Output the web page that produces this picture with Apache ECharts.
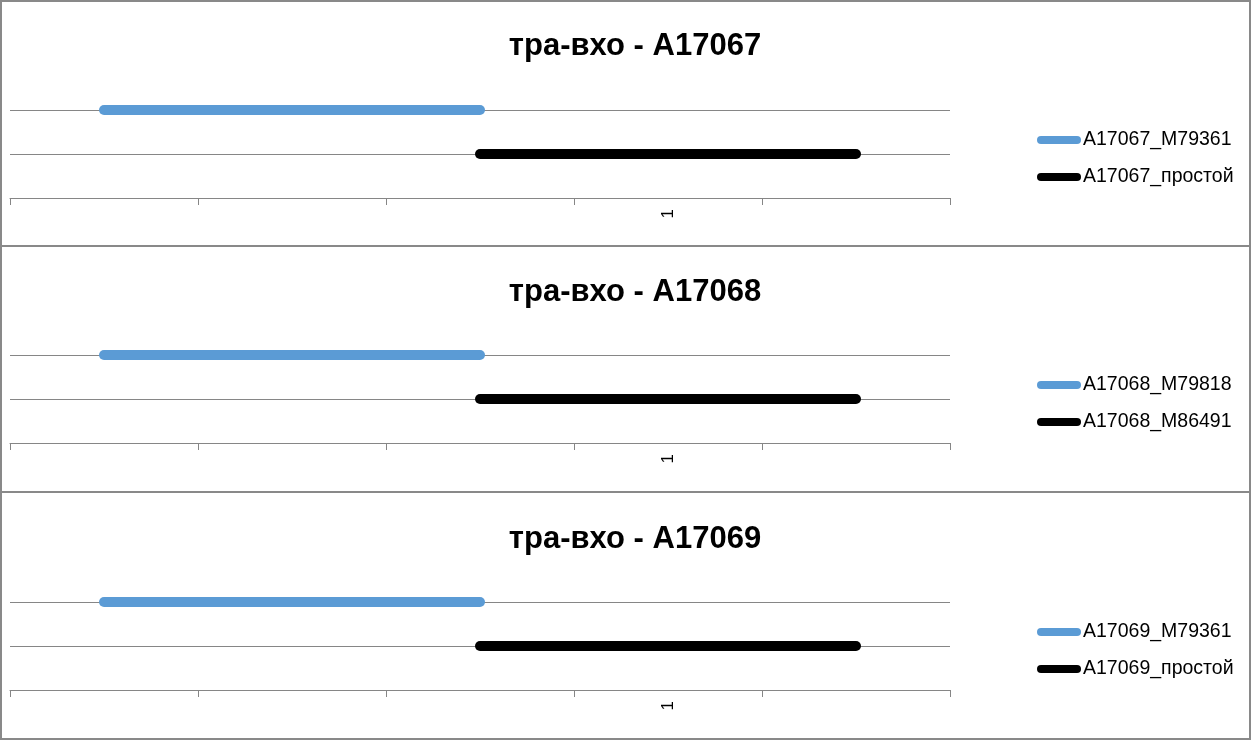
<!DOCTYPE html>
<html>
<head>
<meta charset="utf-8">
<script src="https://cdn.jsdelivr.net/npm/echarts@6/dist/echarts.min.js"></script>
<style>
html,body{margin:0;padding:0;background:#fff;}
#c{width:1252px;height:740px;}
</style>
</head>
<body>
<div id="c"></div>
<script>
const titles = ['тра-вхо - A17067', 'тра-вхо - A17068', 'тра-вхо - A17069'];
const seriesNamesA = ['A17067_M79361', 'A17068_M79818', 'A17069_M79361'];
const seriesNamesB = ['A17067_простой', 'A17068_M86491', 'A17069_простой'];
const categories = ['', '', '', '1', ''];
const valuesA = [
  [2, 2, 2, null, null],
  [2, 2, 2, null, null],
  [2, 2, 2, null, null]
];
const valuesB = [
  [null, null, 1, 1, 1],
  [null, null, 1, 1, 1],
  [null, null, 1, 1, 1]
];
const yTicks = [0, 1, 2];

const gridOffsets = [0, 245, 492];
const titleCenters = [41, 287, 534];
const legendTops = [130, 375, 622];
const gray = '#868686';
const font = 'Liberation Sans, Arial, sans-serif';

const chart = echarts.init(document.getElementById('c'));
const grid = [], xAxis = [], yAxis = [], series = [], title = [], legend = [], graphic = [];
const legendIcon = 'path://M4,0 H40 A4,4 0 0 1 40,8 H4 A4,4 0 0 1 4,0 Z';

for (let i = 0; i < 3; i++) {
  const off = gridOffsets[i];
  grid.push({left: 10, width: 940, top: 110 + off, height: 88, containLabel: false});
  xAxis.push({
    type: 'category', gridIndex: i, data: categories, boundaryGap: true,
    axisLine: {show: true, lineStyle: {color: gray, width: 1}},
    axisTick: {show: true, length: 7, lineStyle: {color: gray}},
    axisLabel: {interval: 0, rotate: 90, color: '#000', fontSize: 17, fontFamily: font, margin: 11},
    splitLine: {show: false}
  });
  yAxis.push({
    type: 'value', gridIndex: i, min: yTicks[0], max: yTicks[yTicks.length - 1], interval: 1,
    axisLine: {show: false}, axisTick: {show: false}, axisLabel: {show: false},
    splitLine: {show: true, lineStyle: {color: gray, width: 1}}
  });
  series.push({
    name: seriesNamesA[i], type: 'line', xAxisIndex: i, yAxisIndex: i, data: valuesA[i],
    showSymbol: false, symbol: 'none', connectNulls: false,
    lineStyle: {width: 10, color: '#5b9bd5', cap: 'round', join: 'round'},
    itemStyle: {color: '#5b9bd5'}, z: 3
  });
  series.push({
    name: seriesNamesB[i], type: 'line', xAxisIndex: i, yAxisIndex: i, data: valuesB[i],
    showSymbol: false, symbol: 'none', connectNulls: false,
    lineStyle: {width: 10, color: '#000000', cap: 'round', join: 'round'},
    itemStyle: {color: '#000000'}, z: 2
  });
  title.push({
    text: titles[i], left: 630, textAlign: 'center', top: titleCenters[i] - 19,
    textStyle: {fontFamily: font, fontWeight: 'bold', fontSize: 31, color: '#000', lineHeight: 38}
  });
  legend.push({
    data: [seriesNamesA[i], seriesNamesB[i]], orient: 'vertical', left: 1037, top: legendTops[i],
    itemWidth: 44, itemHeight: 8, itemGap: 17, icon: legendIcon, padding: 0,
    textStyle: {fontFamily: font, fontSize: 19.5, color: '#000', lineHeight: 20, padding: [0, 0, 0, -3]}
  });
}
const panelYs = [[1, 246], [246, 492], [492, 739]];
panelYs.forEach(p => {
  graphic.push({type: 'rect', shape: {x: 1, y: p[0], width: 1249, height: p[1] - p[0]},
    style: {fill: 'none', stroke: '#898989', lineWidth: 2}, silent: true});
});

chart.setOption({
  animation: false,
  backgroundColor: '#fff',
  title, legend, grid, xAxis, yAxis, series, graphic
});
</script>
</body>
</html>
